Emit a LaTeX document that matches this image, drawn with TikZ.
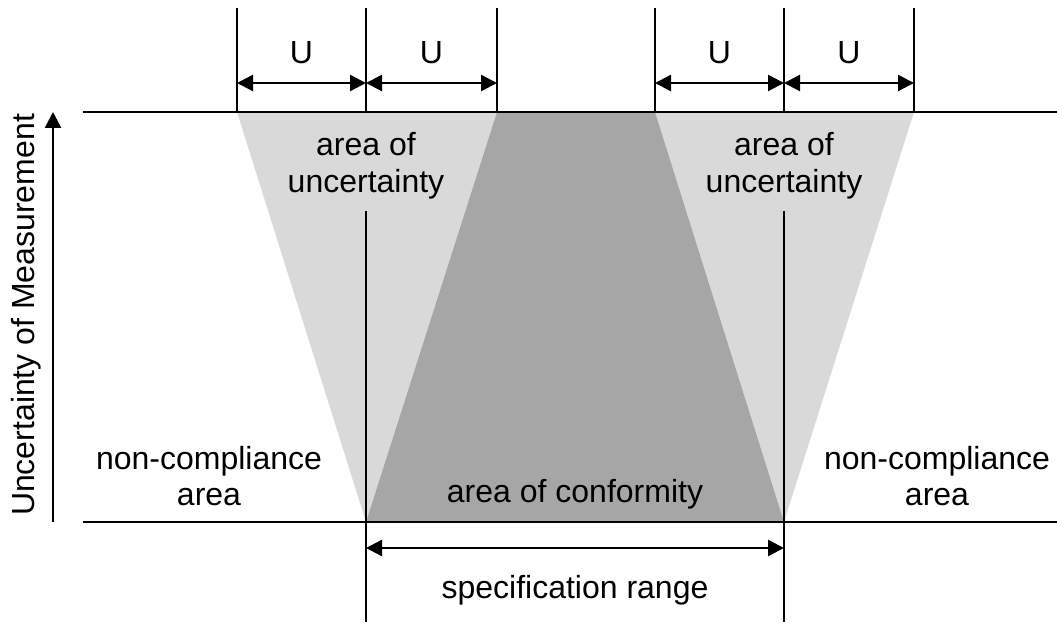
\documentclass[tikz,border=0pt]{standalone}
\usepackage{fontspec}
\setmainfont{Liberation Sans}
\usetikzlibrary{arrows.meta}
\definecolor{lightg}{HTML}{D9D9D9}
\definecolor{darkg}{HTML}{A6A6A6}
\begin{document}
\begin{tikzpicture}[x=0.75pt,y=-0.75pt,
  ln/.style={line width=1.8pt},
  dim/.style={line width=1.8pt,{Triangle[length=12pt,width=12pt]}-{Triangle[length=12pt,width=12pt]}},
  axarrow/.style={line width=1.8pt,-{Triangle[length=12pt,width=12pt]}},
  lbl/.style={font=\fontsize{24}{27.5}\selectfont,align=center,inner sep=0pt}]
\useasboundingbox (0,0) rectangle (1057,623);
% coordinates
\coordinate (tl) at (83,112);
\coordinate (tr) at (1057,112);
\coordinate (bl) at (83,522);
\coordinate (br) at (1057,522);
\coordinate (a1) at (237,112);
\coordinate (a2) at (366,112);
\coordinate (a3) at (497,112);
\coordinate (a4) at (655,112);
\coordinate (a5) at (784,112);
\coordinate (a6) at (914,112);
\coordinate (t1) at (237,8);
\coordinate (t2) at (366,8);
\coordinate (t3) at (497,8);
\coordinate (t4) at (655,8);
\coordinate (t5) at (784,8);
\coordinate (t6) at (914,8);
\coordinate (b2) at (366,522);
\coordinate (b5) at (784,522);
% fills
\fill[lightg] (a1) -- (a3) -- (b2) -- cycle;
\fill[lightg] (a4) -- (a6) -- (b5) -- cycle;
\fill[darkg] (a3) -- (a4) -- (b5) -- (b2) -- cycle;
% horizontal lines
\draw[ln] (tl) -- (tr);
\draw[ln] (bl) -- (br);
% top verticals
\foreach \i in {1,...,6}{
  \draw[ln] (t\i) -- (a\i);
}
% middle verticals
\coordinate (m2) at (366,211);
\coordinate (m5) at (784,211);
\coordinate (e2) at (366,622);
\coordinate (e5) at (784,622);
\draw[ln] (m2) -- (e2);
\draw[ln] (m5) -- (e5);
% U dimension arrows
\coordinate (u1) at (237,83);
\coordinate (u2) at (366,83);
\coordinate (u3) at (497,83);
\coordinate (u4) at (655,83);
\coordinate (u5) at (784,83);
\coordinate (u6) at (914,83);
\draw[dim] (u1) -- (u2);
\draw[dim] (u2) -- (u3);
\draw[dim] (u4) -- (u5);
\draw[dim] (u5) -- (u6);
\node[lbl] (U1) at (301.5,53) {U};
\node[lbl] (U2) at (431.5,53) {U};
\node[lbl] (U3) at (719.5,53) {U};
\node[lbl] (U4) at (849,53) {U};
% spec range arrow
\coordinate (s1) at (366,548);
\coordinate (s2) at (784,548);
\draw[dim] (s1) -- (s2);
\node[lbl] (spec) at (575,590) {specification range};
% vertical axis arrow
\coordinate (v1) at (53,522);
\coordinate (v2) at (53,112);
\draw[axarrow] (v1) -- (v2);
\node[lbl,rotate=90] (axis) at (26,315) {Uncertainty of Measurement};
% labels
\node[lbl] (unc1) at (366,166) {area of\\uncertainty};
\node[lbl] (unc2) at (784,166) {area of\\uncertainty};
\node[lbl] (nc1) at (209,476) {non-compliance\\area};
\node[lbl] (nc2) at (937,476) {non-compliance\\area};
\node[lbl] (conf) at (575,494) {area of conformity};
\end{tikzpicture}
\end{document}
